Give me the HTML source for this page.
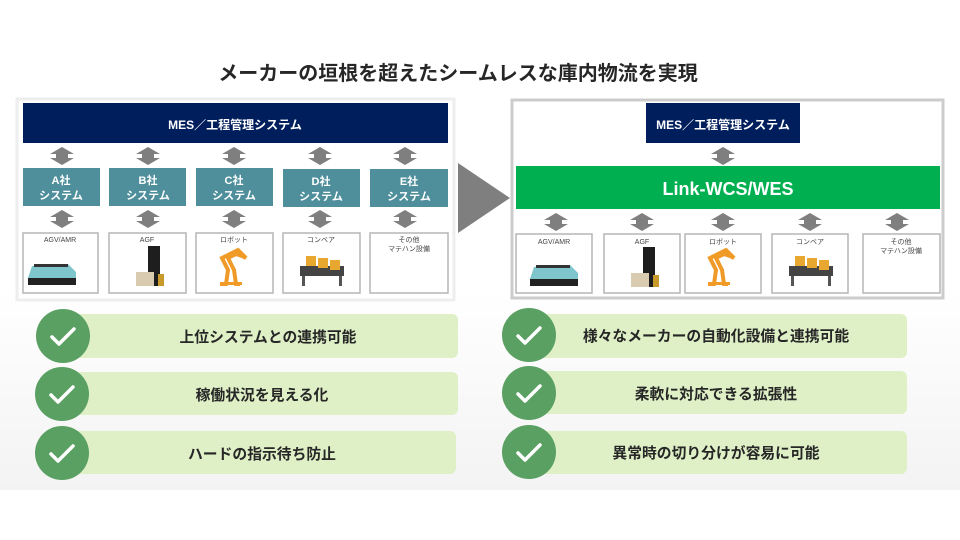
<!DOCTYPE html>
<html><head><meta charset="utf-8"><style>
html,body{margin:0;padding:0;background:#fff}
svg{display:block}
text{font-family:"Liberation Sans","Noto Sans CJK JP",sans-serif;font-weight:bold}
</style></head><body>
<svg width="960" height="540" viewBox="0 0 960 540" xmlns="http://www.w3.org/2000/svg">
<defs>
<linearGradient id="bg" x1="0" y1="0" x2="0" y2="1">
<stop offset="0" stop-color="#ffffff"/><stop offset="1" stop-color="#f3f3f3"/>
</linearGradient>
<g id="da"><polygon points="0,0 12,7 6,7 6,11 12,11 0,18 -12,11 -6,11 -6,7 -12,7" fill="#7f7f7f"/></g>
<g id="agv">
<path d="M-24,8 L-20,-4 L16,-6 L24,2 L24,12 L-24,14 Z" fill="#7fc6cc"/>
<rect x="-24" y="8" width="48" height="7" fill="#222"/>
<rect x="-18" y="-6" width="34" height="3" fill="#333"/>
</g>
<g id="agf">
<rect x="-2" y="-24" width="12" height="40" fill="#1e1e1e"/>
<rect x="-14" y="2" width="18" height="14" fill="#d8cbb0"/>
<rect x="8" y="4" width="6" height="12" fill="#c89a2a"/>
</g>
<g id="robot">
<path d="M-14,16 L-8,16 L-6,2 L-12,-10 L4,-18 L12,-10 L8,-12 L2,-14 L-6,-10 L0,2 L2,16 L6,16" fill="none" stroke="#f09a28" stroke-width="4"/>
<rect x="-14" y="14" width="22" height="3" fill="#f09a28"/>
</g>
<g id="conv">
<rect x="-22" y="-2" width="44" height="10" fill="#444"/>
<rect x="-20" y="8" width="3" height="10" fill="#555"/><rect x="17" y="8" width="3" height="10" fill="#555"/>
<rect x="-16" y="-12" width="10" height="10" fill="#e8a830"/><rect x="-4" y="-10" width="10" height="10" fill="#e8a830"/><rect x="8" y="-8" width="10" height="10" fill="#e8a830"/>
</g>
</defs>
<rect x="0" y="0" width="960" height="540" fill="#fff"/>
<rect x="0" y="290" width="960" height="200" fill="url(#bg)"/>

<text x="458" y="80" font-size="20" text-anchor="middle" fill="#262626">メーカーの垣根を超えたシームレスな庫内物流を実現</text>

<rect x="17" y="99" width="437" height="201" fill="#fff" stroke="#eeeeee" stroke-width="3"/>
<rect x="23" y="103" width="425" height="40" fill="#001e5c"/>
<text x="235" y="129" font-size="12" text-anchor="middle" fill="#fff">MES／工程管理システム</text>
<g>
<use href="#da" x="62" y="147"/><use href="#da" x="148" y="147"/><use href="#da" x="234" y="147"/><use href="#da" x="320" y="147"/><use href="#da" x="405" y="147"/>
<use href="#da" x="62" y="210"/><use href="#da" x="148" y="210"/><use href="#da" x="234" y="210"/><use href="#da" x="320" y="210"/><use href="#da" x="405" y="210"/>
</g>
<g fill="#4f8f9c">
<rect x="23" y="168" width="77" height="38"/><rect x="109" y="168" width="77" height="38"/><rect x="196" y="168" width="77" height="38"/><rect x="283" y="169" width="77" height="38"/><rect x="370" y="169" width="78" height="38"/>
</g>
<g font-size="11" fill="#fff" text-anchor="middle">
<text x="61" y="184">A社</text><text x="61" y="199">システム</text>
<text x="148" y="184">B社</text><text x="148" y="199">システム</text>
<text x="234" y="184">C社</text><text x="234" y="199">システム</text>
<text x="321" y="185">D社</text><text x="321" y="200">システム</text>
<text x="409" y="185">E社</text><text x="409" y="200">システム</text>
</g>
<g fill="#fff" stroke="#b5b5b5" stroke-width="1.5">
<rect x="23" y="233" width="75" height="60"/><rect x="109" y="233" width="77" height="60"/><rect x="196" y="233" width="77" height="60"/><rect x="283" y="233" width="77" height="60"/><rect x="370" y="233" width="78" height="60"/>
</g>
<g font-size="7" fill="#444" text-anchor="middle">
<text x="60" y="242" style="font-weight:normal">AGV/AMR</text><text x="147" y="242" style="font-weight:normal">AGF</text><text x="234" y="242" style="font-weight:normal">ロボット</text><text x="321" y="242" style="font-weight:normal">コンベア</text><text x="409" y="242" style="font-weight:normal">その他</text><text x="409" y="251" style="font-weight:normal">マテハン設備</text>
</g>
<use href="#agv" x="52" y="270"/><use href="#agf" x="150" y="270"/><use href="#robot" x="234" y="268"/><use href="#conv" x="322" y="268"/>

<polygon points="458,163 510,198 458,233" fill="#7f7f7f"/>

<rect x="512" y="100" width="431" height="198" fill="#fff" stroke="#cccccc" stroke-width="3"/>
<rect x="646" y="103" width="154" height="40" fill="#001e5c"/>
<text x="723" y="129" font-size="12" text-anchor="middle" fill="#fff">MES／工程管理システム</text>
<use href="#da" x="723" y="147"/>
<rect x="516" y="166" width="424" height="43" fill="#00b050"/>
<text x="728" y="195" font-size="18" text-anchor="middle" fill="#fff">Link-WCS/WES</text>
<use href="#da" x="556" y="213"/><use href="#da" x="642" y="213"/><use href="#da" x="723" y="213"/><use href="#da" x="810" y="213"/><use href="#da" x="897" y="213"/>
<g fill="#fff" stroke="#b5b5b5" stroke-width="1.5">
<rect x="516" y="234" width="76" height="59"/><rect x="604" y="234" width="76" height="59"/><rect x="685" y="234" width="76" height="59"/><rect x="772" y="234" width="76" height="59"/><rect x="863" y="234" width="77" height="59"/>
</g>
<g font-size="7" fill="#444" text-anchor="middle">
<text x="554" y="244" style="font-weight:normal">AGV/AMR</text><text x="642" y="244" style="font-weight:normal">AGF</text><text x="723" y="244" style="font-weight:normal">ロボット</text><text x="810" y="244" style="font-weight:normal">コンベア</text><text x="901" y="244" style="font-weight:normal">その他</text><text x="901" y="253" style="font-weight:normal">マテハン設備</text>
</g>
<use href="#agv" x="554" y="271"/><use href="#agf" x="645" y="271"/><use href="#robot" x="722" y="268"/><use href="#conv" x="811" y="268"/>

<g fill="#dff0c6">
<rect x="60" y="314" width="398" height="44" rx="6"/><rect x="60" y="372" width="398" height="43" rx="6"/><rect x="60" y="431" width="396" height="43" rx="6"/>
<rect x="530" y="314" width="377" height="44" rx="6"/><rect x="530" y="371" width="377" height="43" rx="6"/><rect x="530" y="431" width="377" height="43" rx="6"/>
</g>
<g fill="#5aa062">
<circle cx="63" cy="336" r="27"/><circle cx="62" cy="394" r="27"/><circle cx="62" cy="453" r="27"/>
<circle cx="529" cy="335" r="27"/><circle cx="529" cy="393" r="27"/><circle cx="529" cy="452" r="27"/>
</g>
<g fill="none" stroke="#fff" stroke-width="3.5" stroke-linecap="round" stroke-linejoin="round">
<path d="M52,337 L59,344 L74,329"/><path d="M51,395 L58,402 L73,387"/><path d="M51,454 L58,461 L73,446"/>
<path d="M518,336 L525,343 L540,328"/><path d="M518,394 L525,401 L540,386"/><path d="M518,453 L525,460 L540,445"/>
</g>
<g font-size="14.8" fill="#262626" text-anchor="middle">
<text x="268" y="342">上位システムとの連携可能</text>
<text x="262" y="400">稼働状況を見える化</text>
<text x="262" y="459">ハードの指示待ち防止</text>
<text x="716" y="341">様々なメーカーの自動化設備と連携可能</text>
<text x="716" y="399">柔軟に対応できる拡張性</text>
<text x="716" y="458">異常時の切り分けが容易に可能</text>
</g>
</svg>
</body></html>
